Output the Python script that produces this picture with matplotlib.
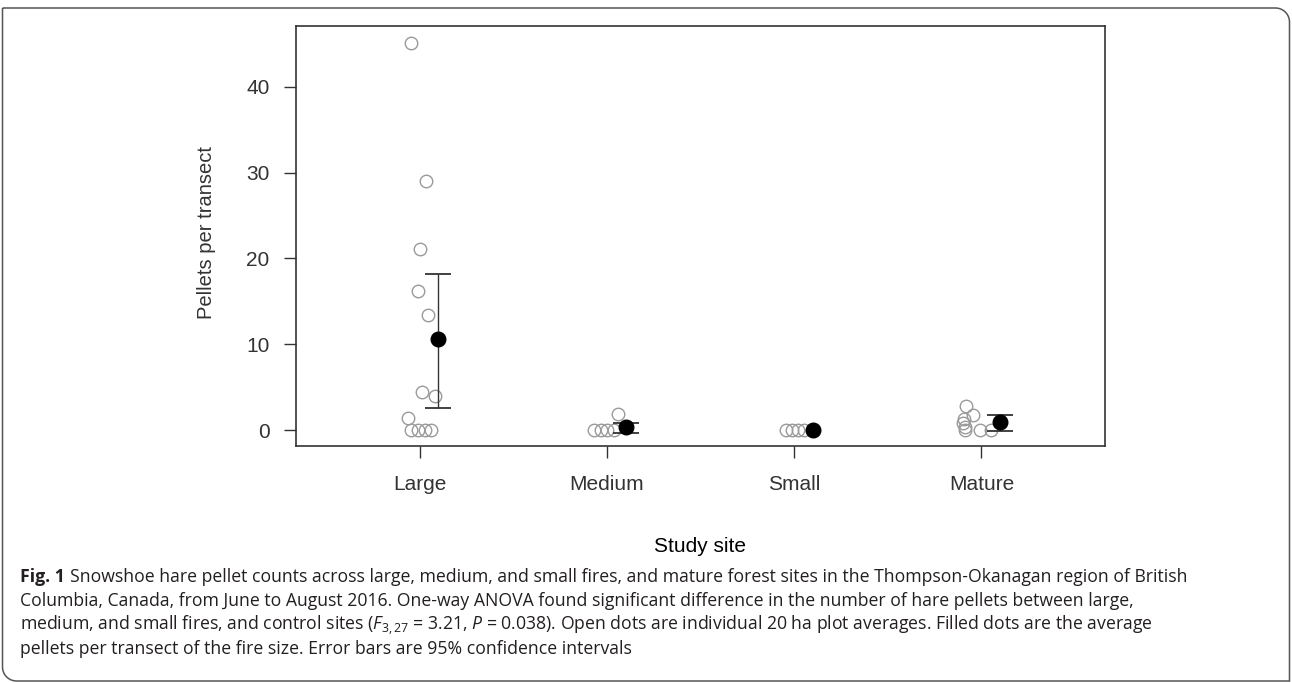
import numpy as np
import matplotlib
matplotlib.use("Agg")
import matplotlib.pyplot as plt
from matplotlib.path import Path
import matplotlib.patches as mpatches

# values
sites = ["Large", "Medium", "Small", "Mature"]

large_vals = [45.1, 29.0, 21.1, 16.2, 13.4, 4.4, 4.0, 1.4, 0, 0, 0, 0]
large_jit = [-0.044, 0.036, 0.0, -0.007, 0.043, 0.014, 0.080, -0.062, -0.044, -0.009, 0.027, 0.062]
medium_vals = [0, 0, 0, 0, 1.9]
medium_jit = [-0.068, -0.032, 0.003, 0.039, 0.062]
small_vals = [0, 0, 0, 0]
small_jit = [-0.044, -0.012, 0.023, 0.053]
mature_vals = [2.8, 1.75, 1.25, 0.8, 0.3, 0, 0, 0]
mature_jit = [-0.082, -0.047, -0.094, -0.100, -0.085, -0.089, -0.005, 0.053]

means = [10.57, 0.39, 0.0, 0.97]
ci_low = [2.53, -0.39, 0.0, -0.12]
ci_high = [18.18, 0.85, 0.0, 1.71]

yticks = [0, 10, 20, 30, 40]

caption = [
    "Snowshoe hare pellet counts across large, medium, and small fires, and mature forest sites in the Thompson-Okanagan region of British",
    "Columbia, Canada, from June to August 2016. One-way ANOVA found significant difference in the number of hare pellets between large,",
    "medium, and small fires, and control sites ($F_{3,27}$ = 3.21, $P$ = 0.038). Open dots are individual 20 ha plot averages. Filled dots are the average",
    "pellets per transect of the fire size. Error bars are 95% confidence intervals",
]

plt.rcParams["font.family"] = ["Liberation Sans", "DejaVu Sans"]
plt.rcParams["mathtext.fontset"] = "custom"
plt.rcParams["mathtext.rm"] = "Open Sans"
plt.rcParams["mathtext.it"] = "Open Sans:italic"
plt.rcParams["mathtext.bf"] = "Open Sans:bold"

W, H = 1292, 683
fig = plt.figure(figsize=(W / 100, H / 100), dpi=100)

L, R, T, B = 296, 1105, 26, 446
ax = fig.add_axes([L / W, 1 - B / H, (R - L) / W, (B - T) / H])

groups = [(large_vals, large_jit), (medium_vals, medium_jit),
          (small_vals, small_jit), (mature_vals, mature_jit)]
for i, (vals, jit) in enumerate(groups):
    xs = i + 1 + np.array(jit)
    ax.plot(xs, vals, "o", ms=9, mfc="none", mec="#9a9a9a", mew=1.0, zorder=2)

mx = np.arange(1, 5) + 0.1
for i in range(4):
    if ci_high[i] > ci_low[i]:
        ax.errorbar(mx[i], means[i],
                    yerr=[[means[i] - ci_low[i]], [ci_high[i] - means[i]]],
                    fmt="none", ecolor="#333333", elinewidth=1.0,
                    capsize=9.4, capthick=1.3, zorder=3)
ax.plot(mx, means, "o", ms=10.5, color="black", zorder=4)

ax.set_xlim(0.34, 4.66)
ax.set_ylim(-1.86, 47.1)
ax.set_xticks(range(1, 5))
ax.set_xticklabels(sites)
ax.set_yticks(yticks)
for s in ax.spines.values():
    s.set_color("#333333")
    s.set_linewidth(1.2)
ax.tick_params(axis="both", length=8.6, width=1.0, color="#333333",
               labelsize=15, labelcolor="#333333")
ax.tick_params(axis="x", pad=12)
ax.tick_params(axis="y", pad=10.5)

fig.text(206.7 / W, 1 - 233 / H, "Pellets per transect", rotation=90,
         ha="center", va="center", fontsize=14.5, color="#333333")
fig.text(700 / W, 1 - 546 / H, "Study site", ha="center", va="center",
         fontsize=15, color="black")

# caption
cap_font = dict(family=["Open Sans", "DejaVu Sans"], fontsize=12.7, color="#231f20")
x0 = 20
base = [582, 606, 630, 654]
renderer = fig.canvas.get_renderer()
t0 = fig.text(x0 / W, 1 - base[0] / H, "Fig. 1", va="baseline", ha="left",
              fontweight="bold", **cap_font)
ext = t0.get_window_extent(renderer)
fig.text((ext.x1 + 5) / W, 1 - base[0] / H, caption[0], va="baseline",
         ha="left", **cap_font)
for k in range(1, 4):
    fig.text(x0 / W, 1 - base[k] / H, caption[k], va="baseline", ha="left",
             **cap_font)

# caption box: square top-left and bottom-right, rounded other corners
r = 14
x1, x2, y1, y2 = 2.5, 1289.5, H - 681, H - 8
a = np.linspace(0, np.pi / 2, 12)
verts = [(x1, y2), (x2 - r, y2)]
verts += [(x2 - r + r * np.sin(t), y2 - r + r * np.cos(t)) for t in a]
verts += [(x2, y1), (x1 + r, y1)]
verts += [(x1 + r - r * np.sin(t), y1 + r - r * np.cos(t)) for t in a]
verts += [(x1, y2)]
frame = mpatches.PathPatch(Path(verts), fill=False, edgecolor="#555555",
                           lw=1.1, transform=None)
fig.add_artist(frame)

fig.savefig("out.png", dpi=100)
